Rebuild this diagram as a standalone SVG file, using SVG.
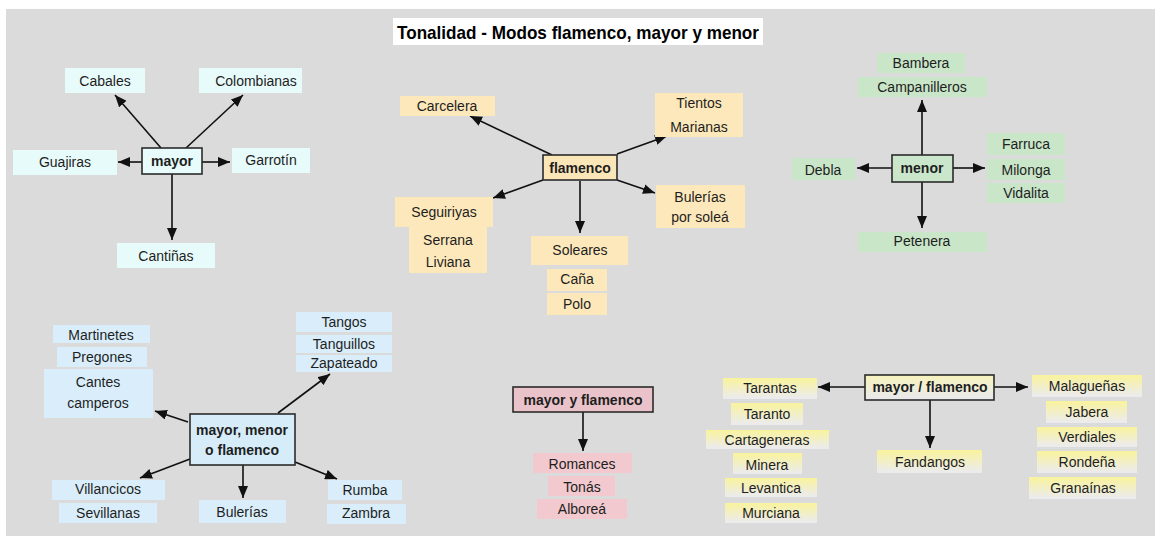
<svg xmlns="http://www.w3.org/2000/svg" width="1155" height="536" viewBox="0 0 1155 536">
<style>
text{font-family:"Liberation Sans",Arial,sans-serif;font-size:14px;fill:#1e1e1e;text-anchor:middle}
.t{font-size:19px;font-weight:bold;fill:#000}
.bd{font-weight:bold}
.c{fill:#e8fbfb}
.o{fill:#fde8bb}
.g{fill:#c9e6c9}
.b{fill:#d9eefa}
.p{fill:#f1c9ce}
.y{fill:url(#yg)}
.n{stroke:#2b2b2b;stroke-width:1.6}
.cn{fill:#e8fcfc}
.on{fill:#fbe6b8}
.gn{fill:#cbe7cb}
.bn{fill:#d6edf9}
.pn{fill:#e9c3c9}
.yn{fill:url(#yn)}
#edges line{stroke:#111;stroke-width:1.6;marker-end:url(#ah)}
</style>
<defs>
<linearGradient id="yg" x1="0" y1="0" x2="0" y2="1"><stop offset="0" stop-color="#f9f39c"/><stop offset="1" stop-color="#ebebf1"/></linearGradient>
<linearGradient id="yn" x1="0" y1="0" x2="0" y2="1"><stop offset="0" stop-color="#f8f3bd"/><stop offset="1" stop-color="#e8e8ee"/></linearGradient>
<marker id="ah" markerUnits="userSpaceOnUse" markerWidth="12" markerHeight="10" refX="12" refY="5" orient="auto"><path d="M0,0 L12,5 L0,10 z" fill="#111"/></marker>
</defs>
<rect x="0" y="0" width="1155" height="536" fill="#ffffff"/>
<rect x="6" y="9" width="1149" height="527" fill="#dbdbdb"/>
<g id="title"><rect x="393" y="18" width="370" height="27" fill="#ffffff"/><text class="t" x="578" y="39" textLength="362" lengthAdjust="spacingAndGlyphs">Tonalidad - Modos flamenco, mayor y menor</text></g>

<g id="edges">
<line x1="161" y1="148" x2="115" y2="95"/>
<line x1="186" y1="148" x2="243" y2="95"/>
<line x1="142" y1="162" x2="118" y2="162"/>
<line x1="202" y1="162" x2="230" y2="162"/>
<line x1="172" y1="174" x2="172" y2="240"/>
<line x1="552" y1="155" x2="470" y2="116"/>
<line x1="617" y1="154" x2="667" y2="136"/>
<line x1="617" y1="180" x2="655" y2="193"/>
<line x1="543" y1="180" x2="493" y2="198"/>
<line x1="580" y1="181" x2="580" y2="233"/>
<line x1="922" y1="155" x2="922" y2="100"/>
<line x1="892" y1="168" x2="857" y2="168"/>
<line x1="953" y1="168" x2="985" y2="168"/>
<line x1="922" y1="182" x2="922" y2="228"/>
<line x1="188" y1="422" x2="155" y2="411"/>
<line x1="278" y1="413" x2="330" y2="374"/>
<line x1="190" y1="459" x2="140" y2="478"/>
<line x1="243" y1="465" x2="243" y2="498"/>
<line x1="295" y1="462" x2="337" y2="479"/>
<line x1="583" y1="412" x2="583" y2="451"/>
<line x1="865" y1="387" x2="818" y2="387"/>
<line x1="994" y1="387" x2="1028" y2="387"/>
<line x1="930" y1="400" x2="930" y2="448"/>
</g>

<g id="mayor"><rect class="cn n" x="142" y="148" width="60" height="26"/><text class="bd" x="172" y="166">mayor</text></g>
<g id="cabales"><rect class="c" x="65" y="68" width="80" height="25"/><text x="105" y="86">Cabales</text></g>
<g id="colombianas"><rect class="c" x="199" y="68" width="103" height="25"/><text x="256" y="86">Colombianas</text></g>
<g id="guajiras"><rect class="c" x="13" y="150" width="104" height="25"/><text x="65" y="167">Guajiras</text></g>
<g id="garrotin"><rect class="c" x="232" y="148" width="78" height="25"/><text x="271" y="165">Garrotín</text></g>
<g id="cantinas"><rect class="c" x="117" y="243" width="98" height="25"/><text x="166" y="261">Cantiñas</text></g>

<g id="flamenco"><rect class="on n" x="543" y="155" width="74" height="25"/><text class="bd" x="580" y="173">flamenco</text></g>
<g id="carcelera"><rect class="o" x="400" y="96" width="95" height="20"/><text x="447" y="111">Carcelera</text></g>
<g id="tientos"><rect class="o" x="655" y="93" width="88" height="44"/><text x="699" y="108">Tientos</text><text x="699" y="132">Marianas</text></g>
<g id="bulerias-solea"><rect class="o" x="656" y="185" width="89" height="43"/><text x="700" y="202">Bulerías</text><text x="700" y="222">por soleá</text></g>
<g id="seguiriyas"><rect class="o" x="395" y="197" width="98" height="30"/><text x="444" y="217">Seguiriyas</text></g>
<g id="serrana"><rect class="o" x="409" y="227" width="78" height="46"/><text x="448" y="245">Serrana</text><text x="448" y="267">Liviana</text></g>
<g id="soleares"><rect class="o" x="531" y="236" width="97" height="29"/><text x="580" y="255">Soleares</text></g>
<g id="cana"><rect class="o" x="547" y="269" width="60" height="22"/><text x="577" y="284">Caña</text></g>
<g id="polo"><rect class="o" x="547" y="293" width="60" height="22"/><text x="577" y="309">Polo</text></g>

<g id="menor"><rect class="gn n" x="892" y="155" width="61" height="27"/><text class="bd" x="922" y="173">menor</text></g>
<g id="bambera"><rect class="g" x="877" y="53" width="88" height="20"/><text x="921" y="68">Bambera</text></g>
<g id="campanilleros"><rect class="g" x="858" y="77" width="129" height="20"/><text x="922" y="92">Campanilleros</text></g>
<g id="debla"><rect class="g" x="792" y="158" width="63" height="22"/><text x="823" y="175">Debla</text></g>
<g id="farruca"><rect class="g" x="987" y="133" width="78" height="22"/><text x="1026" y="149">Farruca</text></g>
<g id="milonga"><rect class="g" x="987" y="159" width="78" height="21"/><text x="1026" y="175">Milonga</text></g>
<g id="vidalita"><rect class="g" x="987" y="183" width="78" height="20"/><text x="1026" y="198">Vidalita</text></g>
<g id="petenera"><rect class="g" x="858" y="232" width="129" height="20"/><text x="922" y="246">Petenera</text></g>

<g id="mayor-menor-flamenco"><rect class="bn n" x="190" y="414" width="105" height="51"/><text class="bd" x="242" y="435">mayor, menor</text><text class="bd" x="242" y="455">o flamenco</text></g>
<g id="martinetes"><rect class="b" x="53" y="325" width="97" height="18"/><text x="101" y="340">Martinetes</text></g>
<g id="pregones"><rect class="b" x="57" y="347" width="90" height="20"/><text x="102" y="362">Pregones</text></g>
<g id="cantes"><rect class="b" x="44" y="369" width="109" height="49"/><text x="98" y="387">Cantes</text><text x="98" y="408">camperos</text></g>
<g id="tangos"><rect class="b" x="296" y="312" width="96" height="20"/><text x="344" y="327">Tangos</text></g>
<g id="tanguillos"><rect class="b" x="296" y="335" width="96" height="18"/><text x="344" y="349">Tanguillos</text></g>
<g id="zapateado"><rect class="b" x="296" y="355" width="96" height="17"/><text x="344" y="368">Zapateado</text></g>
<g id="villancicos"><rect class="b" x="52" y="480" width="113" height="20"/><text x="108" y="494">Villancicos</text></g>
<g id="sevillanas"><rect class="b" x="59" y="503" width="98" height="20"/><text x="108" y="518">Sevillanas</text></g>
<g id="bulerias"><rect class="b" x="199" y="500" width="87" height="23"/><text x="242" y="517">Bulerías</text></g>
<g id="rumba"><rect class="b" x="328" y="480" width="74" height="20"/><text x="365" y="495">Rumba</text></g>
<g id="zambra"><rect class="b" x="327" y="504" width="79" height="20"/><text x="366" y="518">Zambra</text></g>

<g id="mayor-y-flamenco"><rect class="pn n" x="513" y="387" width="140" height="25"/><text class="bd" x="583" y="404.5">mayor y flamenco</text></g>
<g id="romances"><rect class="p" x="533" y="453" width="99" height="20"/><text x="582" y="469">Romances</text></g>
<g id="tonas"><rect class="p" x="548" y="476" width="67" height="20"/><text x="582" y="492">Tonás</text></g>
<g id="alborea"><rect class="p" x="537" y="499" width="90" height="20"/><text x="582" y="514">Alboreá</text></g>

<g id="mayor-flamenco"><rect class="yn n" x="865" y="375" width="129" height="25"/><text class="bd" x="930" y="392">mayor / flamenco</text></g>
<g id="tarantas"><rect class="y" x="723" y="378" width="94" height="21"/><text x="770" y="393">Tarantas</text></g>
<g id="taranto"><rect class="y" x="731" y="403" width="72" height="22"/><text x="767" y="419">Taranto</text></g>
<g id="cartageneras"><rect class="y" x="706" y="430" width="123" height="19"/><text x="767" y="445">Cartageneras</text></g>
<g id="minera"><rect class="y" x="733" y="453" width="69" height="21"/><text x="767" y="470">Minera</text></g>
<g id="levantica"><rect class="y" x="725" y="478" width="92" height="19"/><text x="771" y="493">Levantica</text></g>
<g id="murciana"><rect class="y" x="725" y="503" width="92" height="20"/><text x="771" y="518">Murciana</text></g>
<g id="fandangos"><rect class="y" x="877" y="450" width="105" height="23"/><text x="930" y="467">Fandangos</text></g>
<g id="malaguenas"><rect class="y" x="1032" y="375" width="110" height="22"/><text x="1087" y="391">Malagueñas</text></g>
<g id="jabera"><rect class="y" x="1046" y="401" width="81" height="22"/><text x="1087" y="417">Jabera</text></g>
<g id="verdiales"><rect class="y" x="1037" y="427" width="100" height="20"/><text x="1087" y="442">Verdiales</text></g>
<g id="rondena"><rect class="y" x="1037" y="451" width="100" height="22"/><text x="1087" y="467">Rondeña</text></g>
<g id="granainas"><rect class="y" x="1029" y="477" width="107" height="22"/><text x="1083" y="493">Granaínas</text></g>
</svg>
